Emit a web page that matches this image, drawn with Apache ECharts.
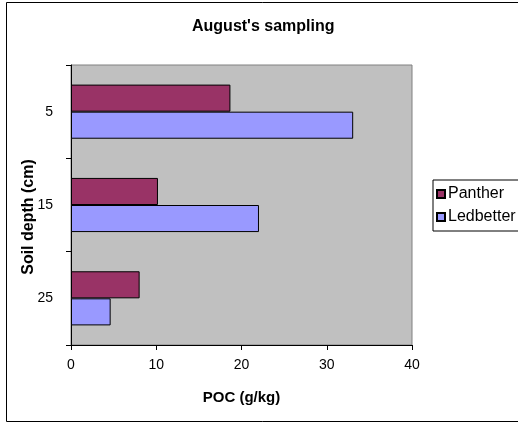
<!DOCTYPE html>
<html>
<head>
<meta charset="utf-8">
<script src="https://cdn.jsdelivr.net/npm/echarts@6/dist/echarts.min.js"></script>
<style>html,body{margin:0;padding:0;background:#fff;}#c{width:518px;height:423px;}</style>
</head>
<body>
<div id="c"></div>
<script>
const categories = ['5', '15', '25'];
const seriesNames = ['Panther', 'Ledbetter'];
const panther = [18.7, 10.2, 8.05];
const ledbetter = [33.1, 22.05, 4.65];
const xTicks = { min: 0, max: 40, interval: 10 };

const FONT = '"Liberation Sans", Arial, sans-serif';
const chart = echarts.init(document.getElementById('c'));
chart.setOption({
  animation: false,
  backgroundColor: '#fff',
  title: {
    text: "August's sampling",
    left: 192, top: 19, padding: 0,
    textStyle: { fontFamily: FONT, fontSize: 16, fontWeight: 'bold', color: '#000' }
  },
  legend: {
    orient: 'vertical', left: 433, top: 180,
    padding: [6, 4, 6, 3], itemGap: 7, itemWidth: 8, itemHeight: 8,
    borderColor: '#000', borderWidth: 1, backgroundColor: '#fff',
    icon: 'rect',
    textStyle: { fontFamily: FONT, fontSize: 16, color: '#000', padding: [0, 0, 0, -2] },
    data: seriesNames
  },
  grid: {
    left: 71, right: 106, top: 65, bottom: 78,
    show: true, backgroundColor: '#C0C0C0', borderColor: '#808080', borderWidth: 1
  },
  xAxis: {
    type: 'value', min: xTicks.min, max: xTicks.max, interval: xTicks.interval,
    name: 'POC (g/kg)', nameLocation: 'middle', nameGap: 45,
    nameTextStyle: { fontFamily: FONT, fontSize: 15, fontWeight: 'bold', color: '#000' },
    axisLine: { show: true, lineStyle: { color: '#000', width: 1 } },
    axisTick: { show: true, length: 5, lineStyle: { color: '#000' } },
    axisLabel: { fontFamily: FONT, fontSize: 14, color: '#000', margin: 13 },
    splitLine: { show: false }
  },
  yAxis: {
    type: 'category', data: categories, inverse: true,
    axisLine: { show: true, lineStyle: { color: '#000', width: 1 } },
    axisTick: { show: true, length: 5, lineStyle: { color: '#000' } },
    axisLabel: { fontFamily: FONT, fontSize: 14, color: '#000', margin: 18 },
    splitLine: { show: false }
  },
  graphic: [
    { type: 'rect', shape: { x: 6.5, y: 2.5, width: 520, height: 419 },
      style: { fill: 'none', stroke: '#000', lineWidth: 1 }, silent: true, z: 100 },
    { type: 'text', x: 29, y: 217, rotation: Math.PI / 2,
      style: { text: 'Soil depth (cm)', font: 'bold 16px ' + FONT, fill: '#000',
               textAlign: 'center', textVerticalAlign: 'middle' } }
  ],
  series: [
    { name: seriesNames[0], type: 'bar', data: panther, barGap: '0%', barCategoryGap: '42%',
      itemStyle: { color: '#993366', borderColor: '#000', borderWidth: 1 } },
    { name: seriesNames[1], type: 'bar', data: ledbetter, barGap: '0%', barCategoryGap: '42%',
      itemStyle: { color: '#9999FF', borderColor: '#000', borderWidth: 1 } }
  ]
});
</script>
</body>
</html>
